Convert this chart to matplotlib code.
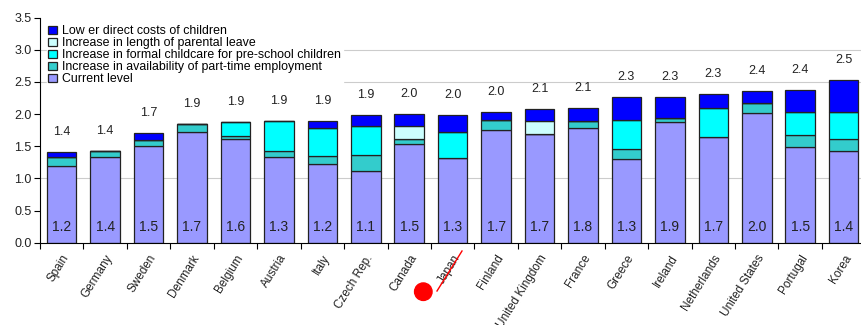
import numpy as np
import matplotlib
matplotlib.use("Agg")
import matplotlib.pyplot as plt
from matplotlib.patches import Ellipse
from matplotlib.lines import Line2D

plt.rcParams['font.family'] = ['Liberation Sans', 'DejaVu Sans']

countries = ['Spain', 'Germany', 'Sweden', 'Denmark', 'Belgium', 'Austria', 'Italy',
             'Czech Rep.', 'Canada', 'Japan', 'Finland', 'United Kingdom', 'France',
             'Greece', 'Ireland', 'Netherlands', 'United States', 'Portugal', 'Korea']

# stacked segments, bottom to top
current = [1.19, 1.34, 1.50, 1.72, 1.61, 1.33, 1.23, 1.12, 1.53, 1.32,
           1.75, 1.69, 1.78, 1.30, 1.88, 1.65, 2.02, 1.49, 1.42]
part_time = [0.15, 0.08, 0.10, 0.12, 0.05, 0.10, 0.12, 0.24, 0.08, 0.0,
             0.16, 0.0, 0.11, 0.16, 0.06, 0.0, 0.15, 0.18, 0.19]
childcare = [0.0, 0.0, 0.0, 0.0, 0.22, 0.47, 0.43, 0.46, 0.0, 0.40,
             0.0, 0.0, 0.0, 0.45, 0.0, 0.44, 0.0, 0.37, 0.42]
leave = [0.0, 0.0, 0.0, 0.0, 0.0, 0.0, 0.0, 0.0, 0.21, 0.0,
         0.0, 0.21, 0.0, 0.0, 0.0, 0.0, 0.0, 0.0, 0.0]
direct = [0.07, 0.0, 0.10, 0.0, 0.0, 0.0, 0.12, 0.16, 0.18, 0.27,
          0.12, 0.18, 0.21, 0.36, 0.33, 0.22, 0.19, 0.33, 0.50]

total_labels = ['1.4', '1.4', '1.7', '1.9', '1.9', '1.9', '1.9', '1.9', '2.0', '2.0',
                '2.0', '2.1', '2.1', '2.3', '2.3', '2.3', '2.4', '2.4', '2.5']
current_labels = ['1.2', '1.4', '1.5', '1.7', '1.6', '1.3', '1.2', '1.1', '1.5', '1.3',
                  '1.7', '1.7', '1.8', '1.3', '1.9', '1.7', '2.0', '1.5', '1.4']

series = [
    (current, '#9999FF', 'Current level'),
    (part_time, '#33CCCC', 'Increase in availability of part-time employment'),
    (childcare, '#00FFFF', 'Increase in formal childcare for pre-school children'),
    (leave, '#CCFFFF', 'Increase in length of parental leave'),
    (direct, '#0000FF', 'Low er direct costs of children'),
]

fig = plt.figure(figsize=(8.61, 3.25), dpi=100)
ax = fig.add_axes([40 / 861, 0.2532, 821 / 861, 0.6923])

x = np.arange(len(countries))
bottom = np.zeros(len(countries))
handles = []
for vals, color, label in series:
    vals = np.array(vals)
    bars = ax.bar(x, vals, 0.68, bottom=bottom, color=color, edgecolor='#222222',
                  linewidth=0.9, label=label, zorder=2)
    handles.append(bars)
    bottom = bottom + vals

for yv in [1.0, 2.5, 3.0]:
    ax.axhline(yv, color='#cccccc', linewidth=0.8, zorder=0)

for i in range(len(countries)):
    ax.text(x[i], 0.25, current_labels[i], ha='center', va='center', fontsize=10,
            color='#222222', zorder=3)
    ax.text(x[i], bottom[i] + 0.31, total_labels[i], ha='center', va='center',
            fontsize=9, color='#222222', zorder=3)

ax.set_xlim(-0.5, 18.4)
ax.set_ylim(0, 3.5)
ax.set_yticks(np.arange(0, 3.51, 0.5))
ax.set_yticklabels(['%.1f' % v for v in np.arange(0, 3.51, 0.5)], fontsize=9,
                   color='#222222')
ax.set_xticks(x)
ax.set_xticklabels(countries, rotation=58, ha='right', rotation_mode='anchor',
                   fontsize=8.5, color='#222222')
ax.set_xticks(np.arange(-0.5, 18.5, 1), minor=True)
ax.tick_params(axis='x', which='major', length=0, pad=7)
ax.tick_params(axis='x', which='minor', length=4, width=0.8, direction='out')
ax.tick_params(axis='y', length=4, width=0.8, direction='out', pad=2)

for side in ['top', 'right']:
    ax.spines[side].set_visible(False)
ax.spines['left'].set_linewidth(0.8)
ax.spines['bottom'].set_linewidth(0.8)

leg = ax.legend(handles[::-1], [s[2] for s in series[::-1]], loc='upper left',
                bbox_to_anchor=(47 / 861, 1 - 24 / 325), bbox_transform=fig.transFigure,
                fontsize=8.9, frameon=True, fancybox=False, edgecolor='white',
                framealpha=1, handlelength=0.7, handleheight=0.7, handletextpad=0.45,
                labelspacing=0.0, borderpad=0.1, borderaxespad=0)
leg.set_zorder(5)

# red mark near Japan
fig.add_artist(Ellipse((423.3 / 861, 1 - 291.7 / 325), 17.5 / 861, 17.5 / 325,
                       transform=fig.transFigure, color='red'))
fig.add_artist(Line2D([437 / 861, 462 / 861], [1 - 291 / 325, 1 - 251 / 325],
                      transform=fig.transFigure, color='red', linewidth=1))

fig.savefig('out.png', dpi=100)
